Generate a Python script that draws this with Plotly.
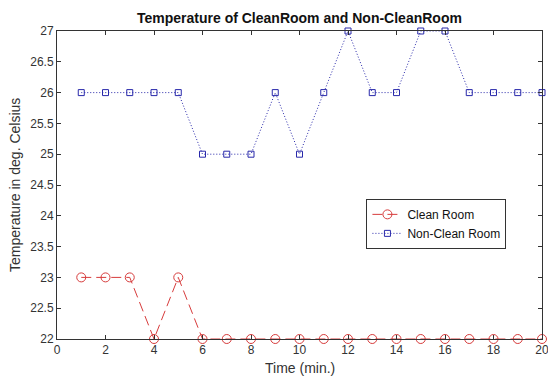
import plotly.graph_objects as go

time_min = list(range(1, 21))
clean_room = [23, 23, 23, 22, 23, 22, 22, 22, 22, 22, 22, 22, 22, 22, 22, 22, 22, 22, 22, 22]
non_clean_room = [26, 26, 26, 26, 26, 25, 25, 25, 26, 25, 26, 27, 26, 26, 27, 27, 26, 26, 26, 26]

red = "rgb(215,60,60)"
blue = "rgb(40,40,170)"
FONT = "Liberation Sans, Arial"

fig = go.Figure()
fig.add_trace(go.Scatter(
    x=time_min, y=clean_room, name="Clean Room", mode="lines+markers",
    line=dict(color=red, dash="10px,5px", width=1),
    marker=dict(symbol="circle-open", size=9, color=red, line=dict(width=1)),
    cliponaxis=False,
))
fig.add_trace(go.Scatter(
    x=time_min, y=non_clean_room, name="Non-Clean Room", mode="lines+markers",
    line=dict(color=blue, dash="1px,2px", width=1),
    marker=dict(symbol="square-open", size=6, color=blue, line=dict(width=1)),
    cliponaxis=False,
))

axis_common = dict(
    showgrid=False, zeroline=False, showline=True, linecolor="#333",
    linewidth=1, mirror="ticks", ticks="inside", ticklen=4, tickcolor="#333",
    tickfont=dict(family=FONT, size=12, color="#333"), automargin=False,
    ticklabeloverflow="allow",
)
fig.update_xaxes(range=[0, 20], dtick=2, **axis_common)
fig.update_yaxes(range=[22, 27], dtick=0.5, **axis_common)

fig.update_layout(
    width=548, height=380,
    margin=dict(l=57, r=6, t=31, b=41),
    paper_bgcolor="white", plot_bgcolor="white",
    legend=dict(x=0.638, y=0.455, xanchor="left", yanchor="top",
                bgcolor="white", bordercolor="#333", borderwidth=1,
                font=dict(family=FONT, size=12, color="#111"),
                tracegroupgap=0),
    showlegend=True,
    annotations=[
        dict(text="<b>Temperature of CleanRoom and Non-CleanRoom</b>",
             xref="paper", yref="paper", x=0.5, y=1, yshift=13,
             xanchor="center", yanchor="middle",
             showarrow=False, font=dict(family=FONT, size=14, color="#111")),
        dict(text="Time (min.)", xref="paper", yref="paper", x=0.5, y=0, yshift=-29,
             xanchor="center", yanchor="middle",
             showarrow=False, font=dict(family=FONT, size=14, color="#333")),
        dict(text="Temperature in deg. Celsius", xref="paper", yref="paper",
             x=0, xshift=-42, y=0.5, textangle=-90,
             xanchor="center", yanchor="middle",
             showarrow=False, font=dict(family=FONT, size=14, color="#333")),
    ],
)

fig.write_html(
    "out.html",
    config={"displayModeBar": False},
    post_script="document.body.style.margin='0';document.body.style.overflow='hidden';",
)
